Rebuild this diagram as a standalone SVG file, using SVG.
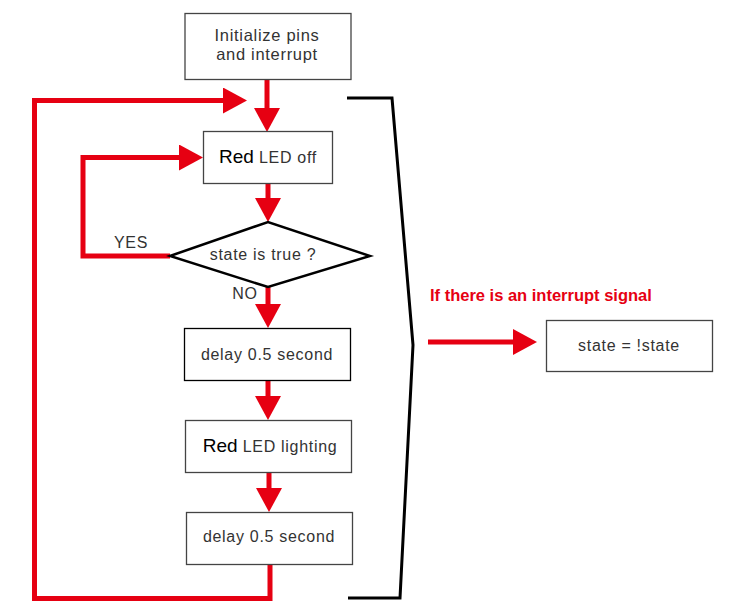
<svg xmlns="http://www.w3.org/2000/svg" width="737" height="615" viewBox="0 0 737 615">
<style>
.box{fill:#fff;stroke:#444;stroke-width:1.3}
.t{font-family:"Liberation Sans",Arial,sans-serif;font-size:16px;fill:#333;letter-spacing:0.7px;text-anchor:middle}
.red{font-family:"Liberation Sans",Arial,sans-serif;font-size:19px;fill:#000}
.c{fill:none;stroke:#e60012;stroke-width:5;stroke-linejoin:miter}
</style>
<defs>
<marker id="ah" viewBox="0 0 24 26" markerUnits="userSpaceOnUse" markerWidth="24" markerHeight="26" refX="0" refY="13" orient="auto">
<path d="M0,0 L24,13 L0,26 Z" fill="#e60012"/>
</marker>
</defs>
<g id="connectors">
<path class="c" d="M267,79 V108" marker-end="url(#ah)"/>
<path class="c" d="M268,183 V198" marker-end="url(#ah)"/>
<path class="c" d="M268,287 V304" marker-end="url(#ah)"/>
<path class="c" d="M268,381 V396" marker-end="url(#ah)"/>
<path class="c" d="M269,472 V488" marker-end="url(#ah)"/>
<path class="c" d="M270,564 V598.5 H34.5 V100.5 H223" marker-end="url(#ah)"/>
<path class="c" d="M170,256 H83 V157.5 H179" marker-end="url(#ah)"/>
<path class="c" d="M428,342 H513" marker-end="url(#ah)"/>
</g>
<g id="bracket">
<polyline points="347,98 392,98 413,345 400,598 348,598" fill="none" stroke="#000" stroke-width="3"/>
</g>
<g id="init">
<rect class="box" x="185" y="13.5" width="166" height="66"/>
<text class="t" x="267" y="41" style="font-size:16.5px">Initialize pins</text>
<text class="t" x="267" y="60" style="font-size:16.5px">and interrupt</text>
</g>
<g id="led-off">
<rect class="box" x="203.5" y="131.5" width="129" height="52"/>
<text x="268" y="163" text-anchor="middle" font-family="'Liberation Sans',Arial,sans-serif"><tspan class="red">Red</tspan><tspan font-size="16" fill="#333" letter-spacing="0.7"> LED off</tspan></text>
</g>
<g id="decision">
<polygon points="170,256 268,222 370,256 268,287" fill="#fff" stroke="#000" stroke-width="2.5"/>
<text class="t" x="263" y="260">state is true ?</text>
<text class="t" x="131" y="248">YES</text>
<text class="t" x="245" y="299">NO</text>
</g>
<g id="delay1">
<rect x="184.5" y="328.5" width="166" height="52" fill="#fff" stroke="#000" stroke-width="1.3"/>
<text class="t" x="267" y="360">delay 0.5 second</text>
</g>
<g id="led-on">
<rect class="box" x="185.5" y="420.5" width="166" height="52"/>
<text x="270" y="452" text-anchor="middle" font-family="'Liberation Sans',Arial,sans-serif"><tspan class="red">Red</tspan><tspan font-size="16" fill="#333" letter-spacing="0.7"> LED lighting</tspan></text>
</g>
<g id="delay2">
<rect class="box" x="186.5" y="512.5" width="166" height="52"/>
<text class="t" x="269" y="542">delay 0.5 second</text>
</g>
<g id="interrupt">
<text x="430" y="301" font-family="'Liberation Sans',Arial,sans-serif" font-size="16.5" font-weight="bold" fill="#e60012">If there is an interrupt signal</text>
</g>
<g id="toggle">
<rect class="box" x="546.5" y="320.5" width="166" height="51"/>
<text class="t" x="629" y="351">state = !state</text>
</g>
</svg>
